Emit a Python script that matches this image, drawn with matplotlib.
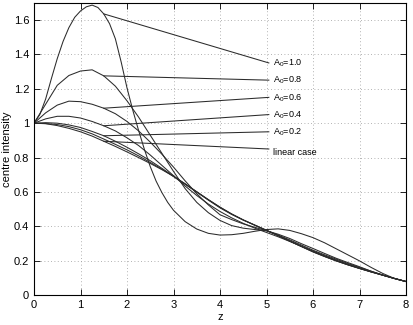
import matplotlib
matplotlib.use("Agg")
import matplotlib.pyplot as plt

plt.rcParams['font.family'] = ['Liberation Sans', 'DejaVu Sans']
plt.rcParams['mathtext.fontset'] = 'custom'
plt.rcParams['mathtext.rm'] = 'Liberation Sans'

# propagation distance
z = [0, 0.25, 0.5, 0.75, 1, 1.25, 1.5, 1.75, 2, 2.25, 2.5, 2.75, 3, 3.25, 3.5, 3.75,
     4, 4.25, 4.5, 4.75, 5, 5.25, 5.5, 5.75, 6, 6.25, 6.5, 6.75, 7, 7.25, 7.5, 7.75, 8]
# finer sampling for the strongly focusing case
z1 = [0, 0.125, 0.25, 0.375, 0.5, 0.625, 0.75, 0.875, 1, 1.125, 1.25, 1.375, 1.5, 1.625,
      1.75, 1.875, 2, 2.125, 2.25, 2.375, 2.5, 2.625, 2.75, 2.875, 3, 3.25, 3.5, 3.75,
      4, 4.25, 4.5, 4.75, 5, 5.25, 5.5, 5.75, 6, 6.25, 6.5, 6.75, 7, 7.25, 7.5, 7.75, 8]

# centre intensity
a10 = [1.0, 1.05, 1.14, 1.26, 1.375, 1.475, 1.555, 1.615, 1.652, 1.676, 1.686, 1.672,
       1.635, 1.578, 1.49, 1.355, 1.205, 1.075, 0.957, 0.847, 0.748, 0.664, 0.597, 0.54,
       0.494, 0.428, 0.385, 0.36, 0.35, 0.352, 0.36, 0.372, 0.382, 0.386, 0.377, 0.358,
       0.335, 0.305, 0.27, 0.235, 0.2, 0.162, 0.127, 0.098, 0.08]
a08 = [1.0, 1.11, 1.22, 1.277, 1.303, 1.31, 1.275, 1.215, 1.13, 1.035, 0.93, 0.825, 0.72,
       0.62, 0.54, 0.48, 0.435, 0.405, 0.39, 0.382, 0.375, 0.355, 0.33, 0.30, 0.272,
       0.243, 0.215, 0.19, 0.166, 0.14, 0.117, 0.097, 0.08]
a06 = [1.0, 1.06, 1.105, 1.128, 1.125, 1.11, 1.087, 1.055, 1.01, 0.955, 0.89, 0.82, 0.745,
       0.665, 0.59, 0.525, 0.468, 0.44, 0.415, 0.395, 0.375, 0.35, 0.322, 0.292, 0.262,
       0.235, 0.21, 0.185, 0.162, 0.14, 0.118, 0.098, 0.08]
a04 = [1.0, 1.025, 1.04, 1.04, 1.03, 1.01, 0.985, 0.955, 0.915, 0.87, 0.815, 0.755, 0.695,
       0.635, 0.58, 0.53, 0.487, 0.45, 0.418, 0.39, 0.365, 0.34, 0.313, 0.285, 0.257,
       0.23, 0.205, 0.18, 0.158, 0.137, 0.117, 0.098, 0.08]
a02 = [1.0, 1.003, 1.0, 0.99, 0.975, 0.952, 0.927, 0.895, 0.86, 0.822, 0.782, 0.738, 0.692,
       0.645, 0.6, 0.555, 0.512, 0.473, 0.438, 0.407, 0.377, 0.347, 0.316, 0.285, 0.255,
       0.227, 0.201, 0.178, 0.156, 0.136, 0.117, 0.098, 0.08]
a01 = [1.0, 0.998, 0.992, 0.98, 0.962, 0.938, 0.908, 0.877, 0.845, 0.81, 0.772, 0.733, 0.69,
       0.647, 0.602, 0.556, 0.512, 0.472, 0.438, 0.407, 0.377, 0.347, 0.315, 0.284, 0.253,
       0.226, 0.2, 0.177, 0.156, 0.136, 0.117, 0.098, 0.08]
lin = [1.0, 0.997, 0.986, 0.97, 0.95, 0.925, 0.895, 0.865, 0.833, 0.8, 0.766, 0.73, 0.692,
       0.648, 0.60, 0.553, 0.508, 0.47, 0.437, 0.408, 0.378, 0.347, 0.315, 0.283, 0.252,
       0.225, 0.2, 0.177, 0.156, 0.136, 0.117, 0.098, 0.08]

labels = ["A$_0$=1.0", "A$_0$=0.8", "A$_0$=0.6", "A$_0$=0.4", "A$_0$=0.2", "linear case"]
label_y = [1.35, 1.25, 1.15, 1.05, 0.95, 0.85]
label_z = 5.05

fig = plt.figure(figsize=(4.13, 3.25), dpi=100)
ax = fig.add_axes([34 / 413, 1 - 295.3 / 325, 372 / 413, 292.6 / 325])

col = '#2b2b2b'
ax.plot(z1, a10, color=col, lw=0.75)
for s in [a08, a06, a04, a02, a01, lin]:
    ax.plot(z, s, color=col, lw=0.75)

# leader lines from z=1.5 on each curve to its label
starts = [(z1, a10), (z, a08), (z, a06), (z, a04), (z, a02), (z, lin)]
for (zz, s), lab, ly in zip(starts, labels, label_y):
    i0 = zz.index(1.5)
    ax.plot([zz[i0], label_z], [s[i0], ly], color=col, lw=0.75)
    dy = -0.022 if lab == "linear case" else 0
    ax.text(label_z + 0.08, ly + dy, lab, fontsize=6.5, va='center', ha='left')

ax.set_xlim(0, 8)
ax.set_ylim(0, 1.7)
ax.set_xticks([0, 1, 2, 3, 4, 5, 6, 7, 8])
ax.set_yticks([0, 0.2, 0.4, 0.6, 0.8, 1.0, 1.2, 1.4, 1.6])
ax.set_yticklabels(['0', '0.2', '0.4', '0.6', '0.8', '1', '1.2', '1.4', '1.6'])
ax.grid(True, linestyle=(0, (1, 3)), color='#999999', lw=0.6)
ax.tick_params(direction='in', top=True, right=True, labelsize=8, length=4, width=0.6)
for sp in ax.spines.values():
    sp.set_linewidth(0.8)

ax.set_xlabel("z", fontsize=8, labelpad=1)
ax.set_ylabel("centre intensity", fontsize=8)
ax.yaxis.set_label_coords(-0.058, 0.5)

plt.savefig("out.png", dpi=100)
